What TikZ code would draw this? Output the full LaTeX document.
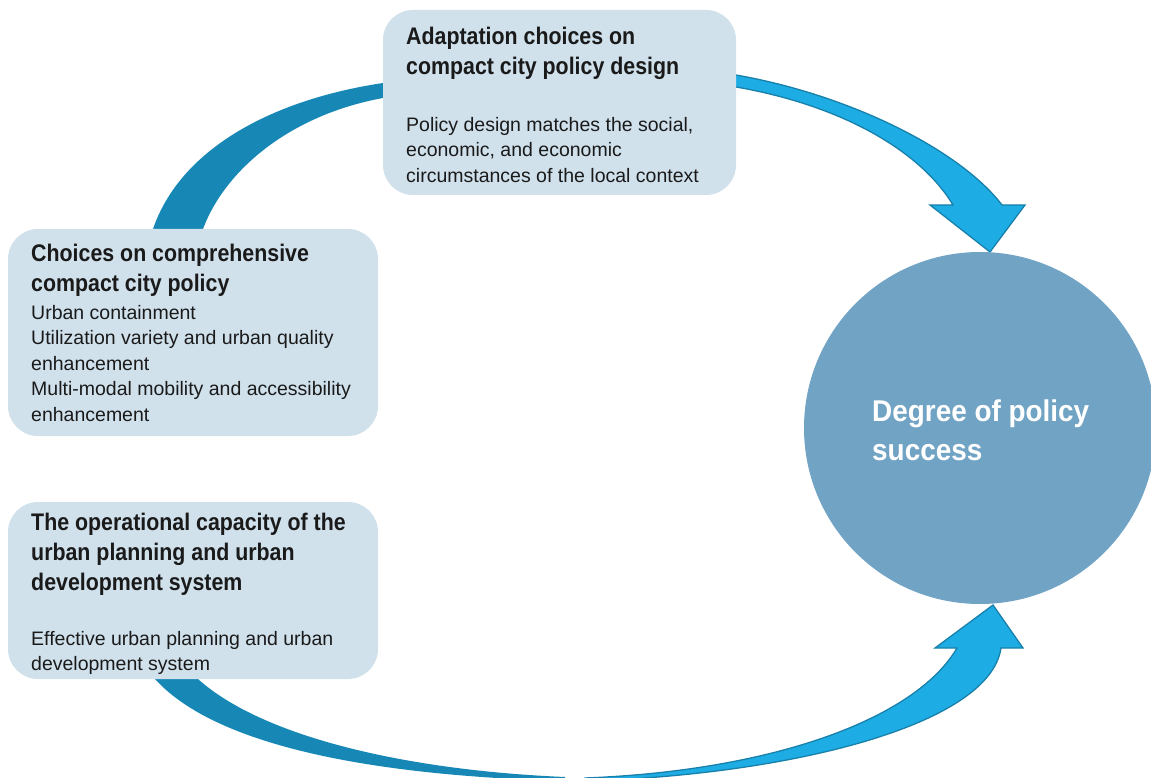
\documentclass[tikz,border=0pt]{standalone}
\usepackage{fontspec}
\setmainfont{Liberation Sans}
\newfontfamily\ttlfont{Liberation Sans}[FakeStretch=0.89]
\newfontfamily\circfont{Liberation Sans}[FakeStretch=0.93]
\definecolor{boxc}{HTML}{D0E1EC}
\definecolor{circc}{HTML}{71A3C4}
\definecolor{tailc}{HTML}{1788B5}
\definecolor{arrc}{HTML}{1DADE4}
\definecolor{arrline}{HTML}{1880AA}
\definecolor{txtc}{HTML}{1A1A1A}
\begin{document}
\begin{tikzpicture}[x=1pt,y=-1pt,
  box/.style={draw=none,fill=boxc,rounded corners=30pt,inner sep=0pt},
  ttl/.style={inner sep=0pt,anchor=north west,align=left,text=txtc,
    font=\ttlfont\bfseries\fontsize{24}{30}\selectfont},
  bodytxt/.style={inner sep=0pt,anchor=north west,align=left,text=txtc,
    font=\fontsize{19.5}{25.5}\selectfont},
  tail/.style={fill=tailc},
  bigarrow/.style={fill=arrc,draw=arrline,line width=1.3pt,line join=miter}]
\useasboundingbox (0,0) rectangle (1151,778);
\clip (0,0) rectangle (1151,778);

% tails (behind boxes)
\fill[tail] (150,245) -- (153,229) .. controls (180,150) and (270,100) .. (383,83)
  -- (400,81) -- (400,97) -- (383,98) .. controls (290,115) and (225,170) .. (203,229)
  -- (198,245) -- cycle;
\fill[tail] (150,665) -- (155,679) .. controls (210,740) and (350,775) .. (565,781)
  -- (565,777) .. controls (400,770) and (260,735) .. (198,679) -- (193,665) -- cycle;

% light arrows
\filldraw[bigarrow] (720,73) -- (736,75) .. controls (850,95) and (960,150) .. (1002,205)
  -- (1025,205) -- (990,252) -- (930,205) -- (953,205)
  .. controls (920,150) and (840,105) .. (736,87) -- (720,85.5) -- cycle;
\filldraw[bigarrow] (585,778) .. controls (770,771) and (915,720) .. (957,648)
  -- (935,648) -- (993,605) -- (1023,648) -- (1001,648)
  .. controls (990,725) and (790,775) .. (585,781) -- cycle;

% boxes
\node[box,minimum width=353pt,minimum height=185pt] (adapt) at (559.5,102.5) {};
\node[box,minimum width=370pt,minimum height=207pt] (choices) at (193,332.5) {};
\node[box,minimum width=370pt,minimum height=177pt] (capacity) at (193,590.5) {};
\node[circle,fill=circc,draw=none,minimum size=352pt,inner sep=0pt] (success) at (980,428) {};

% texts
\node[ttl] (adaptT) at (406,27) {Adaptation choices on\\compact city policy design};
\node[bodytxt] (adaptB) at (406,117) {Policy design matches the social,\\economic, and economic\\circumstances of the local context};

\node[ttl] (choicesT) at (31,244) {Choices on comprehensive\\compact city policy};
\node[bodytxt] (choicesB) at (31,305) {Urban containment\\Utilization variety and urban quality\\enhancement\\Multi-modal mobility and accessibility\\enhancement};

\node[ttl] (capacityT) at (31,513) {The operational capacity of the\\urban planning and urban\\development system};
\node[bodytxt] (capacityB) at (31,631) {Effective urban planning and urban\\development system};

\node[inner sep=0pt,anchor=north west,align=left,text=white,
  font=\circfont\bfseries\fontsize{30}{39}\selectfont] (successT) at (872,400) {Degree of policy\\success};
\end{tikzpicture}
\end{document}
